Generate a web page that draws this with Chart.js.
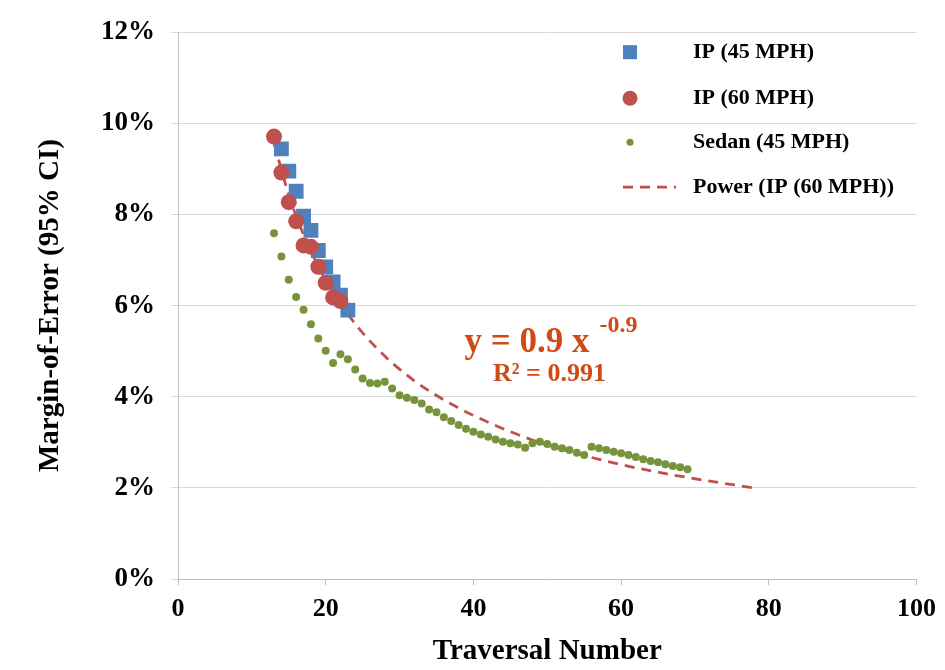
<!DOCTYPE html>
<html>
<head>
<meta charset="utf-8">
<script src="https://cdn.jsdelivr.net/npm/chart.js@4.4.1/dist/chart.umd.min.js"></script>
<style>
  body { margin: 0; background: #fff; }
  #wrap { width: 945px; height: 670px; }
</style>
</head>
<body>
<div id="wrap"><canvas id="marginChart" width="945" height="670"></canvas></div>
<script>
// values (margin of error in %)
const ip45X = [14, 15, 16, 17, 18, 19, 20, 21, 22, 23];
const ip45Y = [9.44, 8.95, 8.51, 7.96, 7.65, 7.21, 6.85, 6.52, 6.23, 5.90];
const ip60X = [13, 14, 15, 16, 17, 18, 19, 20, 21, 22];
const ip60Y = [9.71, 8.92, 8.27, 7.85, 7.32, 7.29, 6.85, 6.50, 6.18, 6.10];
const sedanX = [13, 14, 15, 16, 17, 18, 19, 20, 21, 22, 23, 24, 25, 26, 27, 28, 29, 30, 31, 32,
  33, 34, 35, 36, 37, 38, 39, 40, 41, 42, 43, 44, 45, 46, 47, 48, 49, 50, 51, 52,
  53, 54, 55, 56, 57, 58, 59, 60, 61, 62, 63, 64, 65, 66, 67, 68, 69];
const sedanY = [7.59, 7.08, 6.57, 6.19, 5.91, 5.59, 5.28, 5.01, 4.74, 4.93, 4.82, 4.60, 4.40, 4.30, 4.29, 4.33, 4.18, 4.03, 3.98, 3.93,
  3.85, 3.72, 3.66, 3.55, 3.47, 3.38, 3.30, 3.23, 3.17, 3.12, 3.06, 3.01, 2.98, 2.95, 2.88, 2.98, 3.01, 2.96, 2.90, 2.87,
  2.83, 2.77, 2.72, 2.90, 2.87, 2.83, 2.79, 2.76, 2.72, 2.68, 2.63, 2.59, 2.56, 2.52, 2.48, 2.45, 2.41];
// points
const powerX = [13, 15, 17, 20, 23, 27, 32, 37, 42, 48, 55, 62, 70, 78];
const powerY = [9.56, 8.43, 7.56, 6.56, 5.81, 5.05, 4.35, 3.84, 3.44, 3.05, 2.71, 2.44, 2.20, 2.00];

const seriesNames = ['IP (45 MPH)', 'IP (60 MPH)', 'Sedan (45 MPH)', 'Power (IP (60 MPH))'];
const fitText = ['y = 0.9 x', '-0.9', 'R² = 0.991'];
const xTitle = 'Traversal Number';
const yTitle = 'Margin-of-Error (95% CI)';

const serif = "'Liberation Serif', 'Times New Roman', serif";

function toPoints(xs, ys) {
	return xs.map((x, i) => ({ x: x, y: ys[i] }));
}

// legend box drawn inside the plot, top right
const legendBox = {
	id: 'legendBox',
	afterDraw(chart) {
		const ctx = chart.ctx;
		const area = chart.chartArea;
		const markX = area.left + 452;
		const textX = area.left + 515;
		const rows = [20, 66, 110, 155];
		ctx.save();
		ctx.font = 'bold 22px ' + serif;
		ctx.textBaseline = 'middle';
		rows.forEach((r, i) => {
			ctx.fillStyle = '#000';
			ctx.fillText(seriesNames[i], textX, area.top + r);
		});
		// markers
		let y = area.top + rows[0];
		ctx.fillStyle = '#4F81BD';
		ctx.fillRect(markX - 7, y - 7, 14, 14);
		y = area.top + rows[1];
		ctx.fillStyle = '#C0504D';
		ctx.beginPath(); ctx.arc(markX, y, 7.5, 0, Math.PI * 2); ctx.fill();
		y = area.top + rows[2];
		ctx.fillStyle = '#77933C';
		ctx.beginPath(); ctx.arc(markX, y, 3.5, 0, Math.PI * 2); ctx.fill();
		y = area.top + rows[3];
		ctx.strokeStyle = '#C0504D';
		ctx.lineWidth = 2.8;
		ctx.setLineDash([10, 7]);
		ctx.beginPath(); ctx.moveTo(markX - 7, y); ctx.lineTo(markX + 46, y); ctx.stroke();
		ctx.restore();
	}
};

// trend equation, anchored to data coordinates
const fitLabel = {
	id: 'fitLabel',
	afterDraw(chart) {
		const ctx = chart.ctx;
		const xs = chart.scales.x, ys = chart.scales.y;
		ctx.save();
		ctx.fillStyle = '#D04A15';
		ctx.textBaseline = 'alphabetic';
		ctx.font = 'bold 35px ' + serif;
		const x0 = xs.getPixelForValue(38.8);
		const y0 = ys.getPixelForValue(4.98);
		ctx.fillText(fitText[0], x0, y0);
		const w = ctx.measureText(fitText[0]).width;
		ctx.font = 'bold 24px ' + serif;
		ctx.fillText(fitText[1], x0 + w + 10, ys.getPixelForValue(5.42));
		ctx.font = 'bold 26px ' + serif;
		ctx.textAlign = 'center';
		ctx.fillText(fitText[2], xs.getPixelForValue(50.3), ys.getPixelForValue(4.34));
		ctx.restore();
	}
};

function showChart() {
	var ctx = document.getElementById('marginChart').getContext('2d');
	var myChart = new Chart(ctx, {
		type: 'scatter',
		data: {
			datasets: [{
				label: seriesNames[0],
				data: toPoints(ip45X, ip45Y),
				pointStyle: 'rect',
				pointRadius: 10.5,
				backgroundColor: '#4F81BD',
				borderWidth: 0,
				order: 3
			}, {
				label: seriesNames[1],
				data: toPoints(ip60X, ip60Y),
				pointStyle: 'circle',
				pointRadius: 8,
				backgroundColor: '#C0504D',
				borderWidth: 0,
				order: 2
			}, {
				label: seriesNames[2],
				data: toPoints(sedanX, sedanY),
				pointStyle: 'circle',
				pointRadius: 4,
				backgroundColor: '#77933C',
				borderWidth: 0,
				order: 1
			}, {
				label: seriesNames[3],
				data: toPoints(powerX, powerY),
				showLine: true,
				pointRadius: 0,
				borderColor: '#C0504D',
				borderWidth: 2.8,
				borderDash: [10, 7],
				cubicInterpolationMode: 'monotone',
				fill: false,
				order: 4
			}]
		},
		options: {
			responsive: false,
			animation: false,
			devicePixelRatio: 1,
			layout: {
				padding: { top: 32, right: 28, bottom: 0, left: 0 }
			},
			plugins: {
				legend: { display: false },
				tooltip: { enabled: false }
			},
			scales: {
				x: {
					type: 'linear',
					min: 0,
					max: 100,
					afterFit: function (scale) { scale.height = 91; },
					ticks: {
						stepSize: 20,
						color: '#000',
						padding: 9,
						maxRotation: 0,
						font: { family: serif, size: 26, weight: 'bold' }
					},
					grid: {
						drawOnChartArea: false,
						drawTicks: true,
						tickLength: 6,
						color: '#BFBFBF'
					},
					border: { color: '#BFBFBF' },
					title: {
						display: true,
						text: xTitle,
						color: '#000',
						padding: { top: 0, bottom: 1 },
						font: { family: serif, size: 29, weight: 'bold' }
					}
				},
				y: {
					min: 0,
					max: 12,
					afterFit: function (scale) { scale.width = 178; },
					ticks: {
						stepSize: 2,
						color: '#000',
						padding: 16,
						callback: function (v) { return v + '%'; },
						font: { family: serif, size: 27, weight: 'bold' }
					},
					grid: {
						color: '#D9D9D9',
						tickLength: 7
					},
					border: { color: '#BFBFBF' },
					title: {
						display: true,
						text: yTitle,
						color: '#000',
						padding: { top: 33, bottom: 0 },
						font: { family: serif, size: 29, weight: 'bold' }
					}
				}
			}
		},
		plugins: [legendBox, fitLabel]
	});
}

showChart();
</script>
</body>
</html>
